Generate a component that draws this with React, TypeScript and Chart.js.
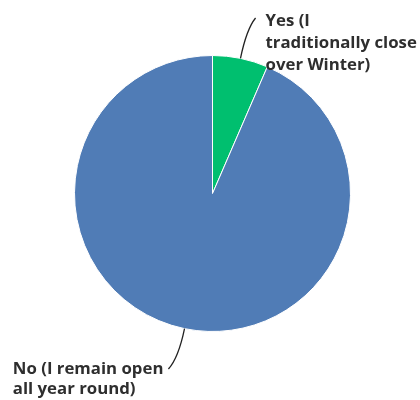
import React, { useEffect, useRef } from "react";
import { Chart, registerables } from "chart.js";

Chart.register(...registerables);

const categories = ["Yes (I traditionally close over Winter)", "No (I remain open all year round)"];
const values = [6.5, 93.5];
const labelLines = [
  ["Yes (I", "traditionally close", "over Winter)"],
  ["No (I remain open", "all year round)"],
];
const colors = ["#00bf6f", "#507cb6"];

const labelPlugin = {
  id: "leaderLabels",
  afterDraw(chart: any) {
    const ctx = chart.ctx;
    const meta = chart.getDatasetMeta(0);
    ctx.save();
    ctx.font = "bold 16.8px 'Open Sans'";
    ctx.fillStyle = "#2e2e2e";
    ctx.strokeStyle = "#222222";
    ctx.lineWidth = 1.3;
    meta.data.forEach((arc: any, i: number) => {
      const { x, y, outerRadius, startAngle, endAngle } = arc.getProps(
        ["x", "y", "outerRadius", "startAngle", "endAngle"],
        true
      );
      const mid = (startAngle + endAngle) / 2;
      const cx = Math.cos(mid);
      const cy = Math.sin(mid);
      const sx = x + cx * outerRadius;
      const sy = y + cy * outerRadius;
      const kx = x + cx * (outerRadius + 30);
      const ky = y + cy * (outerRadius + 30);
      const right = cx >= 0;
      const ex = kx + (right ? 9 : -10);
      const ey = ky + (cy < 0 ? -11 : 11);
      ctx.beginPath();
      ctx.moveTo(sx, sy);
      ctx.quadraticCurveTo(kx, ky, ex, ey);
      ctx.stroke();
      const lines = labelLines[i];
      ctx.textBaseline = "alphabetic";
      ctx.textAlign = "left";
      if (right) {
        lines.forEach((t, j) => ctx.fillText(t, ex + 10, ey + 8 + j * 22));
      } else {
        const w = ctx.measureText(lines[0]).width;
        const lx = ex - 5 - w;
        lines.forEach((t, j) => ctx.fillText(t, lx, ey + 5 + j * 20));
      }
    });
    ctx.restore();
  },
};

export default function App() {
  const ref = useRef<HTMLCanvasElement>(null);
  useEffect(() => {
    const chart = new Chart(ref.current!, {
      type: "pie",
      data: {
        labels: categories,
        datasets: [
          {
            data: values,
            backgroundColor: colors,
            borderColor: "#ffffff",
            borderWidth: 1,
          },
        ],
      },
      options: {
        animation: false,
        responsive: false,
        layout: { padding: { left: 74, top: 55, right: 69, bottom: 68 } },
        plugins: { legend: { display: false }, tooltip: { enabled: false } },
      },
      plugins: [labelPlugin],
    });
    return () => chart.destroy();
  }, []);
  return (
    <div style={{ position: "fixed", left: 0, top: 0, width: 420, height: 400, background: "#fff" }}>
      <canvas ref={ref} width={420} height={400} />
    </div>
  );
}
